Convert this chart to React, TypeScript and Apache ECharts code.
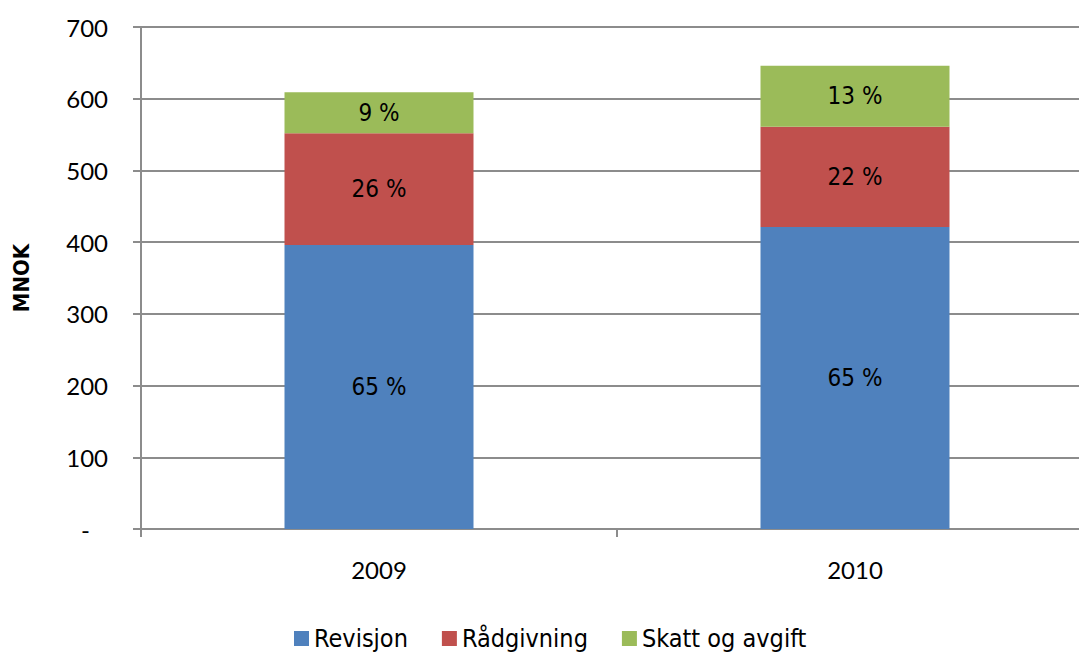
import React, { useEffect, useRef } from "react";
import * as echarts from "echarts";

const categories = ["2009", "2010"];
const revisjon = [396, 421];
const raadgivning = [156, 140];
const skatt = [57, 85];
const yTicks = [0, 100, 200, 300, 400, 500, 600, 700];

const seriesDefs = [
  { name: "Revisjon", data: revisjon, color: "#4F81BD" },
  { name: "Rådgivning", data: raadgivning, color: "#C0504D" },
  { name: "Skatt og avgift", data: skatt, color: "#9BBB59" },
];

const totals = categories.map((_, i) => revisjon[i] + raadgivning[i] + skatt[i]);

const labelFont = "'DejaVu Sans Condensed', 'DejaVu Sans', sans-serif";
const tickFont = "Lato, 'Open Sans', sans-serif";

export default function App() {
  const ref = useRef<HTMLDivElement>(null);
  useEffect(() => {
    if (!ref.current) return;
    const chart = echarts.init(ref.current, undefined, { renderer: "svg" });
    chart.setOption({
      animation: false,
      backgroundColor: "#ffffff",
      grid: { left: 141, right: 0, top: 27, bottom: 124, containLabel: false },
      legend: {
        top: 621,
        left: 289,
        icon: "rect",
        itemWidth: 15,
        itemHeight: 15,
        itemGap: 34,
        textStyle: { fontFamily: labelFont, fontSize: 25, color: "#000" },
        data: seriesDefs.map((s) => s.name),
      },
      xAxis: {
        type: "category",
        data: categories,
        boundaryGap: true,
        axisLine: { lineStyle: { color: "#8c8c8c", width: 2 } },
        axisTick: { show: true, length: 8, inside: false, lineStyle: { color: "#8c8c8c", width: 2 } },
        axisLabel: { margin: 28, fontFamily: tickFont, fontSize: 24, color: "#000" },
      },
      yAxis: {
        type: "value",
        min: 0,
        max: 700,
        interval: 100,
        name: "MNOK",
        nameLocation: "middle",
        nameGap: 109,
        nameTextStyle: { fontFamily: labelFont, fontSize: 22, fontWeight: "bold", color: "#000" },
        axisLine: { show: true, lineStyle: { color: "#8c8c8c", width: 2 } },
        axisTick: { show: true, length: 8, lineStyle: { color: "#8c8c8c", width: 2 } },
        splitLine: { show: true, lineStyle: { color: "#8c8c8c", width: 2 } },
        axisLabel: {
          margin: 33,
          fontFamily: tickFont,
          fontSize: 24,
          color: "#000",
          formatter: (v: number) => (v === 0 ? "{z|-}" : String(v)),
          rich: { z: { padding: [0, 18, 0, 0], fontFamily: tickFont, fontSize: 24, color: "#000" } },
          customValues: yTicks,
        },
      },
      series: seriesDefs.map((s) => ({
        name: s.name,
        type: "bar",
        stack: "total",
        barWidth: 189,
        data: s.data,
        itemStyle: { color: s.color },
        label: {
          show: true,
          position: "inside",
          fontFamily: labelFont,
          fontSize: 24,
          color: "#000",
          formatter: (p: any) => Math.round((p.value / totals[p.dataIndex]) * 100) + " %",
        },
      })),
    });
    return () => chart.dispose();
  }, []);
  return (
    <div style={{ position: "absolute", left: 0, top: 0, width: 1079, height: 653, overflow: "hidden", background: "#fff" }}>
      <div ref={ref} style={{ width: 1093, height: 653 }} />
    </div>
  );
}
